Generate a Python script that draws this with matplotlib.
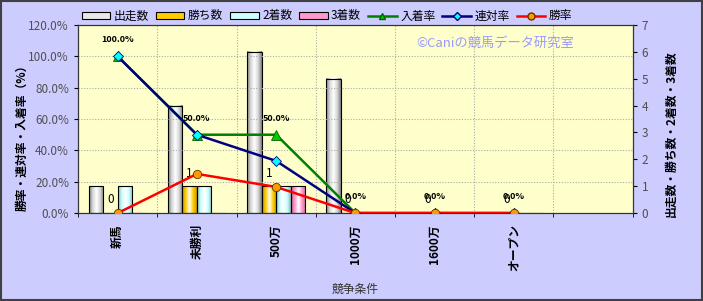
import numpy as np
import matplotlib
matplotlib.use('Agg')
import matplotlib.pyplot as plt
from matplotlib.colors import LinearSegmentedColormap
from matplotlib.patches import Rectangle
from matplotlib.lines import Line2D

plt.rcParams['font.family'] = ['Noto Sans CJK JP', 'DejaVu Sans']

categories = ['新馬', '未勝利', '500万', '1000万', '1600万', 'オープン', '']
runs = [1, 4, 6, 5, 0, 0]
wins = [0, 1, 1, 0, 0, 0]
seconds = [1, 1, 1, 0, 0, 0]
thirds = [0, 0, 1, 0, 0, 0]
place_rate = [100.0, 50.0, 50.0, 0.0, 0.0, 0.0]
rentai_rate = [100.0, 50.0, 33.3, 0.0, 0.0, 0.0]
win_rate = [0.0, 25.0, 16.7, 0.0, 0.0, 0.0]

bg = '#CCCCFF'
plot_bg = '#FFFFCC'
grid_kw = dict(linestyle=(0, (1, 1.5)), color='#aaaaaa', linewidth=0.8)

fig = plt.figure(figsize=(7.03, 3.01), dpi=100, facecolor=bg)
ax = fig.add_axes([0.111, 0.292, 0.789, 0.625])   # bars, right scale
axp = ax.twinx()                                  # rates, left scale
ax.set_facecolor(plot_bg)

x = np.arange(len(runs))
bw = 0.183


def grad_bars(xs, vals, base, dark, z=2):
    cmap = LinearSegmentedColormap.from_list('g', [dark, base, '#ffffff', base, dark])
    rects = ax.bar(xs, vals, bw, facecolor='none', edgecolor='black', linewidth=0.8, zorder=z + 1)
    for r in rects:
        h = r.get_height()
        if h <= 0:
            continue
        g = np.linspace(0, 1, 50).reshape(1, -1)
        ax.imshow(g, extent=[r.get_x(), r.get_x() + r.get_width(), 0, h],
                  aspect='auto', cmap=cmap, zorder=z, interpolation='bilinear')
    return rects


grad_bars(x - 1.5 * bw, runs, '#d8d8d8', '#808080')
wb = grad_bars(x - 0.5 * bw, wins, '#FFCC00', '#CC9900')
grad_bars(x + 0.5 * bw, seconds, '#CCFFFF', '#88BBBB')
grad_bars(x + 1.5 * bw, thirds, '#FF99CC', '#CC6699')

ax.set_xlim(-0.5, len(categories) - 0.5)
ax.set_ylim(0, 7)
ax.set_xticks(np.arange(len(categories)))
ax.set_xticklabels(categories, rotation=90, fontsize=8.5, fontweight='bold')
ax.set_xticks(np.arange(len(categories) + 1) - 0.5, minor=True)
ax.tick_params(axis='x', which='major', length=0, pad=8)
ax.tick_params(axis='x', which='minor', length=3)
ax.grid(True, axis='x', which='minor', **grid_kw)
ax.set_yticks(range(8))
ax.yaxis.tick_right()
ax.tick_params(axis='y', labelsize=8.5, labelcolor='#505050', length=3)
ax.set_ylabel('出走数・勝ち数・2着数・3着数', fontsize=8.5, fontweight='bold')
ax.yaxis.set_label_coords(1.081, 0.42)
ax.set_xlabel('競争条件', fontsize=8.5, color='#333333')
ax.xaxis.set_label_coords(0.499, -0.372)

# 勝ち数 labels
for r, v in zip(wb, wins):
    ax.annotate(str(v), (r.get_x() + r.get_width() / 2, v), xytext=(0, 9.5),
                textcoords='offset points', ha='center', va='center', fontsize=8.5, zorder=6)

axp.set_ylim(0, 120)
axp.set_yticks(np.arange(0, 121, 20))
axp.set_yticklabels(['%.1f%%' % v for v in np.arange(0, 121, 20)])
axp.yaxis.tick_left()
axp.tick_params(axis='y', labelsize=8.5, labelcolor='#505050', length=3)
axp.set_ylabel('勝率・連対率・入着率（%）', fontsize=8.5, fontweight='bold')
axp.yaxis.set_label_coords(-0.1135, 0.415)
axp.grid(True, axis='y', **grid_kw)

axp.plot(x, place_rate, color='#008000', lw=1.8, marker='^', ms=6.5,
         mfc='#00CC00', mec='#006600', mew=0.6, zorder=4)
axp.plot(x, rentai_rate, color='#000080', lw=1.8, marker='D', ms=4.8,
         mfc='#00FFFF', mec='#000080', mew=0.6, zorder=5)
axp.plot(x, win_rate, color='#FF0000', lw=1.8, marker='o', ms=6,
         mfc='#FF9900', mec='#663300', mew=0.6, zorder=6)

for xi, v in zip(x, place_rate):
    axp.annotate('%.1f%%' % v, (xi, v), xytext=(0, 12), textcoords='offset points',
                 ha='center', va='center', fontsize=6.5, fontweight='bold', zorder=7)

for s in ['left', 'right', 'top', 'bottom']:
    ax.spines[s].set_color('#333333')
    axp.spines[s].set_color('#333333')

fig.text(0.705, 0.857, '©Caniの競馬データ研究室', color='#9999FF', fontsize=9.5,
         ha='center', va='center')

handles = [
    Rectangle((0, 0), 1, 1, fc='#e8e8e8', ec='black', lw=0.8),
    Rectangle((0, 0), 1, 1, fc='#FFCC00', ec='black', lw=0.8),
    Rectangle((0, 0), 1, 1, fc='#CCFFFF', ec='black', lw=0.8),
    Rectangle((0, 0), 1, 1, fc='#FF99CC', ec='black', lw=0.8),
    Line2D([], [], color='#008000', lw=1.8, marker='^', ms=5, mfc='#00CC00', mec='#006600'),
    Line2D([], [], color='#000080', lw=1.8, marker='D', ms=4, mfc='#00FFFF', mec='#000080'),
    Line2D([], [], color='#FF0000', lw=1.8, marker='o', ms=5, mfc='#FF9900', mec='#663300'),
]
labels = ['出走数', '勝ち数', '2着数', '3着数', '入着率', '連対率', '勝率']
fig.legend(handles, labels, loc='center', bbox_to_anchor=(0.465, 0.947), ncol=7,
           frameon=False, fontsize=8.5, handlelength=2.4, handleheight=0.5,
           handletextpad=0.3, columnspacing=0.6)

fig.patches.append(Rectangle((0.001, 0.002), 0.997, 0.995, transform=fig.transFigure,
                             fill=False, ec='#404040', lw=1.5))

fig.savefig('out.png', dpi=100, facecolor=bg)
